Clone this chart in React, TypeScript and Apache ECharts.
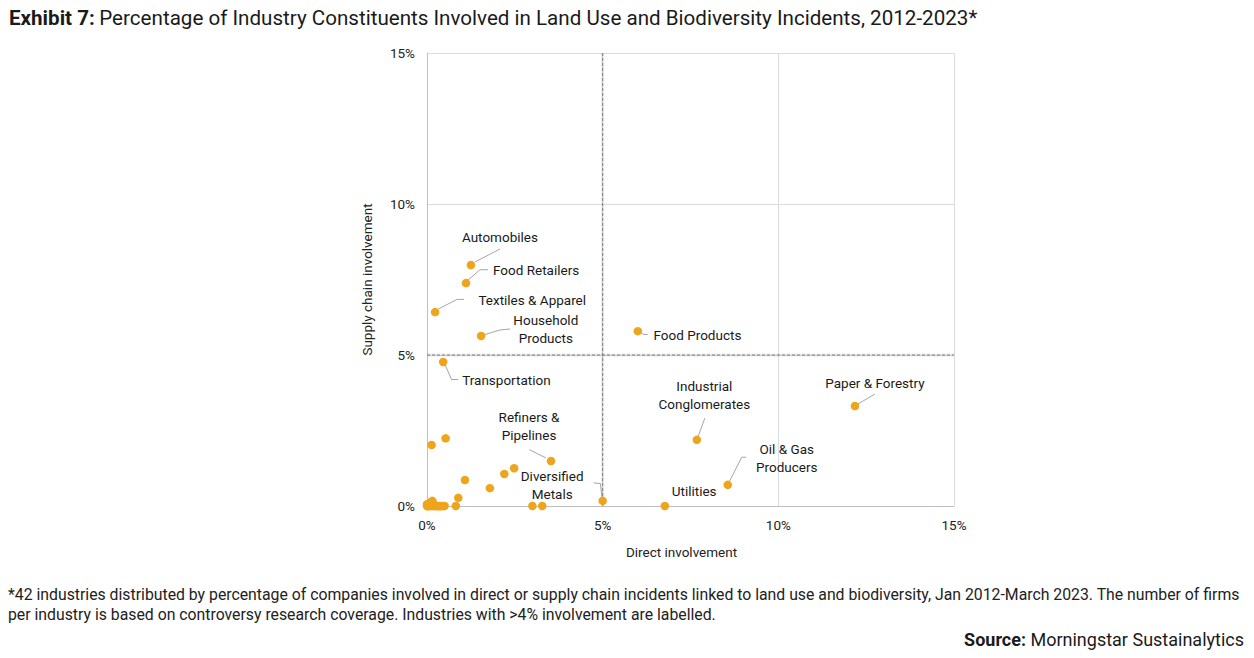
import React, { useEffect, useRef } from "react";
import * as echarts from "echarts";

// Industries with more than 4% involvement (labelled on the chart)
const industries = [
  "Automobiles",
  "Food Retailers",
  "Textiles & Apparel",
  "Household\nProducts",
  "Transportation",
  "Food Products",
  "Paper & Forestry",
  "Industrial\nConglomerates",
  "Oil & Gas\nProducers",
  "Utilities",
  "Refiners &\nPipelines",
  "Diversified\nMetals",
];
const directLabelled = [1.25, 1.11, 0.23, 1.54, 0.46, 6.0, 12.18, 7.68, 8.56, 6.77, 3.53, 5.0];
const supplyLabelled = [7.98, 7.38, 6.42, 5.63, 4.77, 5.79, 3.31, 2.19, 0.7, 0.0, 1.49, 0.17];

// Remaining industries (unlabelled)
const directOther = [
  0.13, 0.53, 1.08, 0.89, 1.79, 2.2, 2.48, 0.82, 3.0, 3.28,
  0.0, 0.05, 0.1, 0.15, 0.2, 0.28, 0.37, 0.45, 0.5, 0.12,
  0.18, 0.08, 0.0, 0.3, 0.4, 0.02, 0.25, 0.06, 0.14, 0.35,
];
const supplyOther = [
  2.02, 2.24, 0.86, 0.27, 0.59, 1.06, 1.25, 0.0, 0.0, 0.0,
  0.0, 0.0, 0.12, 0.17, 0.0, 0.0, 0.0, 0.0, 0.0, 0.05,
  0.08, 0.1, 0.06, 0.0, 0.0, 0.0, 0.0, 0.0, 0.0, 0.0,
];

// Quadrant thresholds
const directThreshold = 5;
const supplyThreshold = 5;

// Axis ticks
const axisMin = 0;
const axisMax = 15;
const axisStep = 5;

// Callout layout for each labelled point, in pixels relative to the point:
// leader-line vertices, text anchor and alignment.
type Callout = { line: number[][]; tx: number; ty: number; align: "left" | "center" | "right" };
const callouts: Callout[] = [
  { line: [[4, -3], [29, -16]], tx: 29, ty: -28.5, align: "center" },
  { line: [[2, -3], [14, -13.4], [22, -13.4]], tx: 27, ty: -12.7, align: "left" },
  { line: [[3, -3], [22, -12.7], [29, -12.7]], tx: 43.3, ty: -12.4, align: "left" },
  { line: [[4, -1.5], [19, -6], [29, -7]], tx: 64.7, ty: -6.6, align: "center" },
  { line: [[2, 3], [8.4, 17.6], [15, 17.6]], tx: 19, ty: 18, align: "left" },
  { line: [[3, 1.6], [6, 3.3], [10, 3.3]], tx: 15.7, ty: 4, align: "left" },
  { line: [[3, -2], [20, -12]], tx: 20, ty: -23.3, align: "center" },
  { line: [[1.3, -3.3], [8, -21.7]], tx: 7.5, ty: -44.8, align: "center" },
  { line: [[1.6, -3.3], [14, -27.6], [18.3, -27.6]], tx: 59, ty: -27, align: "center" },
  { line: [], tx: 29.3, ty: -14.6, align: "center" },
  { line: [[-5, -3], [-21.7, -11.3]], tx: -22, ty: -35, align: "center" },
  { line: [[-0.7, -3], [-2.3, -17.3], [-9, -18]], tx: -50.5, ty: -16, align: "center" },
];

const FONT = "Roboto, 'Noto Sans', sans-serif";
const DOT = "#EEA51C";
const INK = "#1a1a1a";

export default function App() {
  const ref = useRef<HTMLDivElement>(null);

  useEffect(() => {
    document.body.style.margin = "0";
    if (!ref.current) return;
    const chart = echarts.init(ref.current, undefined, { renderer: "svg" });

    const labelledPoints = directLabelled.map((x, i) => [x, supplyLabelled[i], i]);
    const otherPoints = directOther.map((x, i) => [x, supplyOther[i]]);

    const dashed = { type: [3, 2], color: "#7f7f7f", width: 1 };
    const halo = { type: "solid", color: "rgba(0,0,0,0.07)", width: 3 };

    chart.setOption({
      animation: false,
      backgroundColor: "#ffffff",
      textStyle: { fontFamily: FONT },
      title: [
        {
          text: "{b|Exhibit 7:} {n|Percentage of Industry Constituents Involved in Land Use and Biodiversity Incidents, 2012-2023*}",
          left: 9,
          top: 7,
          padding: 0,
          textStyle: {
            rich: {
              b: { fontFamily: FONT, fontSize: 20.6, fontWeight: "bold", color: INK },
              n: { fontFamily: FONT, fontSize: 20.6, fontWeight: "normal", color: INK },
            },
          },
        },
        {
          text:
            "*42 industries distributed by percentage of companies involved in direct or supply chain incidents linked to land use and biodiversity, Jan 2012-March 2023. The number of firms\nper industry is based on controversy research coverage. Industries with >4% involvement are labelled.",
          left: 8,
          top: 584,
          padding: 0,
          textStyle: {
            fontFamily: FONT,
            fontSize: 15.8,
            fontWeight: "normal",
            color: "#222222",
            lineHeight: 20,
          },
        },
        {
          text: "{b|Source:} {n|Morningstar Sustainalytics}",
          right: 10,
          top: 630,
          padding: 0,
          textStyle: {
            rich: {
              b: { fontFamily: FONT, fontSize: 18, fontWeight: "bold", color: INK },
              n: { fontFamily: FONT, fontSize: 18, fontWeight: "normal", color: INK },
            },
          },
        },
      ],
      grid: { left: 427, top: 53, width: 527, height: 453, containLabel: false },
      xAxis: {
        type: "value",
        min: axisMin,
        max: axisMax,
        interval: axisStep,
        name: "Direct involvement",
        nameLocation: "middle",
        nameGap: 39,
        nameTextStyle: { fontFamily: FONT, fontSize: 13.5, color: "#222", padding: [0, 18, 0, 0] },
        axisLine: { show: true, lineStyle: { color: "#bfbfbf", width: 1 } },
        axisTick: { show: false },
        axisLabel: { formatter: "{value}%", fontFamily: FONT, fontSize: 13.5, color: "#222", margin: 12 },
        splitLine: { show: true, lineStyle: { color: "#dcdcdc", width: 1 } },
      },
      yAxis: {
        type: "value",
        min: axisMin,
        max: axisMax,
        interval: axisStep,
        name: "Supply chain involvement",
        nameLocation: "middle",
        nameGap: 53,
        nameTextStyle: { fontFamily: FONT, fontSize: 13.5, color: "#222" },
        axisLine: { show: true, lineStyle: { color: "#bfbfbf", width: 1 } },
        axisTick: { show: false },
        axisLabel: { formatter: "{value}%", fontFamily: FONT, fontSize: 13.5, color: "#222", margin: 12 },
        splitLine: { show: true, lineStyle: { color: "#dcdcdc", width: 1 } },
      },
      series: [
        // quadrant dividers: soft halo underneath a dashed rule
        {
          type: "line",
          name: "direct-threshold-halo",
          data: [[directThreshold, axisMin], [directThreshold, axisMax]],
          showSymbol: false,
          silent: true,
          lineStyle: halo,
          z: 1,
        },
        {
          type: "line",
          name: "supply-threshold-halo",
          data: [[axisMin, supplyThreshold], [axisMax, supplyThreshold]],
          showSymbol: false,
          silent: true,
          lineStyle: halo,
          z: 1,
        },
        {
          type: "line",
          name: "direct-threshold",
          data: [[directThreshold, axisMin], [directThreshold, axisMax]],
          showSymbol: false,
          silent: true,
          lineStyle: dashed,
          z: 2,
        },
        {
          type: "line",
          name: "supply-threshold",
          data: [[axisMin, supplyThreshold], [axisMax, supplyThreshold]],
          showSymbol: false,
          silent: true,
          lineStyle: dashed,
          z: 2,
        },
        {
          type: "scatter",
          name: "Other industries",
          symbolSize: 8.5,
          itemStyle: { color: DOT, opacity: 1 },
          data: otherPoints,
          z: 3,
        },
        {
          type: "scatter",
          name: "Labelled industries",
          symbolSize: 8.5,
          itemStyle: { color: DOT, opacity: 1 },
          data: labelledPoints,
          z: 4,
        },
        // callouts: leader lines and industry names anchored to each labelled point
        {
          type: "custom",
          name: "Callouts",
          data: labelledPoints,
          clip: false,
          silent: true,
          z: 5,
          renderItem: (params: any, api: any) => {
            const i = params.dataIndex;
            const [px, py] = api.coord([api.value(0), api.value(1)]);
            const c = callouts[i];
            const children: any[] = [];
            if (c.line.length > 1) {
              children.push({
                type: "polyline",
                shape: { points: c.line.map(([dx, dy]) => [px + dx, py + dy]) },
                style: { stroke: "#a6a6a6", lineWidth: 1, fill: "none" },
              });
            }
            children.push({
              type: "text",
              x: px + c.tx,
              y: py + c.ty,
              style: {
                text: industries[i],
                fill: INK,
                fontFamily: FONT,
                fontSize: 13.5,
                lineHeight: 18,
                align: c.align,
                verticalAlign: "middle",
              },
            });
            return { type: "group", children };
          },
        },
      ],
    });

    return () => chart.dispose();
  }, []);

  return <div ref={ref} style={{ width: 1254, height: 658 }} />;
}
